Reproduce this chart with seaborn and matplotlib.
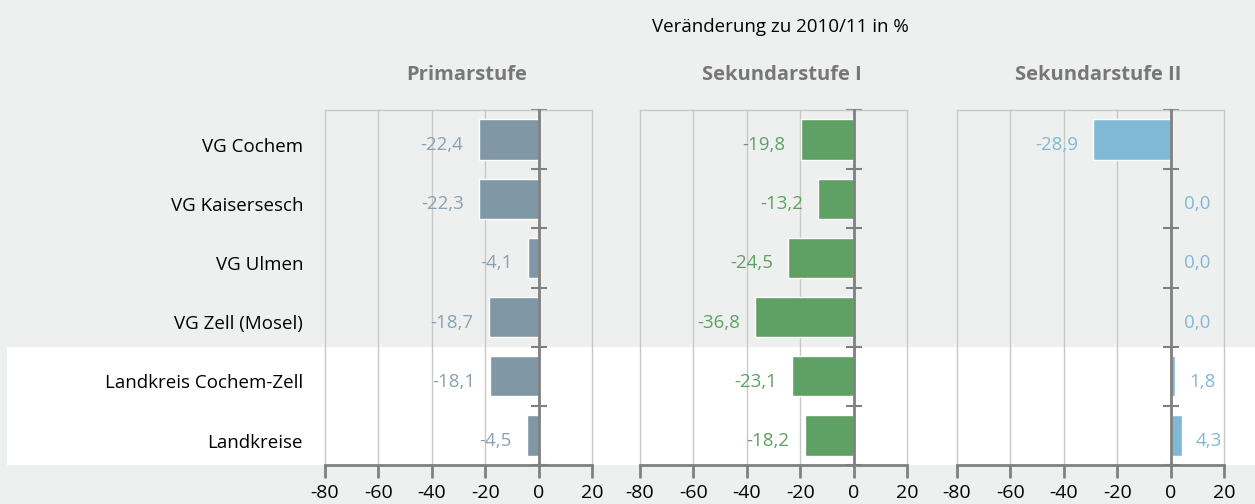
import numpy as np
import pandas as pd
import seaborn as sns
import matplotlib.pyplot as plt
from matplotlib.patches import Rectangle
from matplotlib.transforms import blended_transform_factory

categories = ['VG Cochem', 'VG Kaisersesch', 'VG Ulmen', 'VG Zell (Mosel)',
              'Landkreis Cochem-Zell', 'Landkreise']
panels = ['Primarstufe', 'Sekundarstufe I', 'Sekundarstufe II']
primar = [-22.4, -22.3, -4.1, -18.7, -18.1, -4.5]
sek1 = [-19.8, -13.2, -24.5, -36.8, -23.1, -18.2]
sek2 = [-28.9, 0.0, 0.0, 0.0, 1.8, 4.3]
xticks = [-80, -60, -40, -20, 0, 20]
highlighted = ['Landkreis Cochem-Zell', 'Landkreise']

BG = '#eef0ef'
GRID = '#c9c9c9'
AXIS = '#808080'
bar_colors = ['#8097a6', '#5fa064', '#80b9d5']
label_colors = ['#8aa1b1', '#5fa064', '#80b9d5']

sns.set_style('white')
plt.rcParams['font.family'] = ['Open Sans', 'DejaVu Sans']

W, H = 1255, 504
fig = plt.figure(figsize=(W / 100, H / 100), dpi=100, facecolor=BG)

lefts = [325, 640, 957]
axes = []
for k, (name, vals) in enumerate(zip(panels, [primar, sek1, sek2])):
    ax = fig.add_axes([lefts[k] / W, 1 - 465 / H, 267 / W, 355 / H])
    ax.set_facecolor('none')
    df = pd.DataFrame({'kat': categories, 'wert': vals})
    sns.barplot(data=df, x='wert', y='kat', orient='h', color=bar_colors[k],
                saturation=1, width=0.68, ax=ax, zorder=3)
    ax.set_xlim(xticks[0], xticks[-1])
    ax.set_ylim(len(categories) - 0.5, -0.5)
    ax.set_xticks(xticks)
    ax.set_xlabel('')
    ax.set_ylabel('')
    ax.set_yticks([])
    ax.set_yticks(np.arange(-0.5, len(categories), 1), minor=True)
    ax.xaxis.grid(True, color=GRID, lw=1)
    for gl in ax.get_xgridlines():
        gl.set_clip_on(False)
    ax.spines['left'].set_position(('data', 0))
    ax.spines['left'].set_color(AXIS)
    ax.spines['left'].set_linewidth(2)
    ax.spines['left'].set_zorder(4)
    ax.spines['right'].set_visible(False)
    ax.spines['top'].set_color(GRID)
    ax.spines['top'].set_linewidth(1)
    ax.spines['bottom'].set_color(AXIS)
    ax.spines['bottom'].set_linewidth(2)
    ax.tick_params(axis='x', which='major', bottom=True, direction='out', length=9,
                   width=2, color=AXIS, labelsize=14, pad=5, labelcolor='black')
    ax.tick_params(axis='y', which='minor', left=True, direction='inout', length=12,
                   width=1.5, color=AXIS)
    ax.set_xticklabels([str(t) for t in xticks])
    for i, v in enumerate(vals):
        txt = f'{v:.1f}'.replace('.', ',')
        if v < 0:
            ax.annotate(txt, xy=(v, i), xytext=(-11, -4), textcoords='offset points',
                        ha='right', va='center', fontsize=13.5, color=label_colors[k])
        else:
            ax.annotate(txt, xy=(v, i), xytext=(10, -4), textcoords='offset points',
                        ha='left', va='center', fontsize=13.5, color=label_colors[k])
    ax.text(0.53, 1.07, name, transform=ax.transAxes, ha='center', va='bottom',
            fontsize=14.5, fontweight='bold', color='#777777')
    axes.append(ax)

ax1 = axes[0]
trans = blended_transform_factory(ax1.transAxes, ax1.transData)
for i, cat in enumerate(categories):
    ax1.text(-0.082, i + 0.12, cat, transform=trans, ha='right', va='center',
             fontsize=13.5, color='black')

# white band behind the highlighted rows
idx = [categories.index(c) for c in highlighted]
y_top = ax1.transData.transform((0, min(idx) - 0.5))[1]
y_bot = ax1.transData.transform((0, max(idx) + 0.5))[1]
fy_top = y_top / fig.bbox.height
fy_bot = y_bot / fig.bbox.height
band = Rectangle((7 / W, fy_bot), 1 - 7 / W, fy_top - fy_bot, transform=fig.transFigure,
                 facecolor='white', edgecolor='none', zorder=-1)
fig.patches.append(band)

fig.text(780 / W, 1 - 27 / H, 'Veränderung zu 2010/11 in %', ha='center', va='center',
         fontsize=13.5, color='black')

fig.savefig('out.png', dpi=100, facecolor=BG)
